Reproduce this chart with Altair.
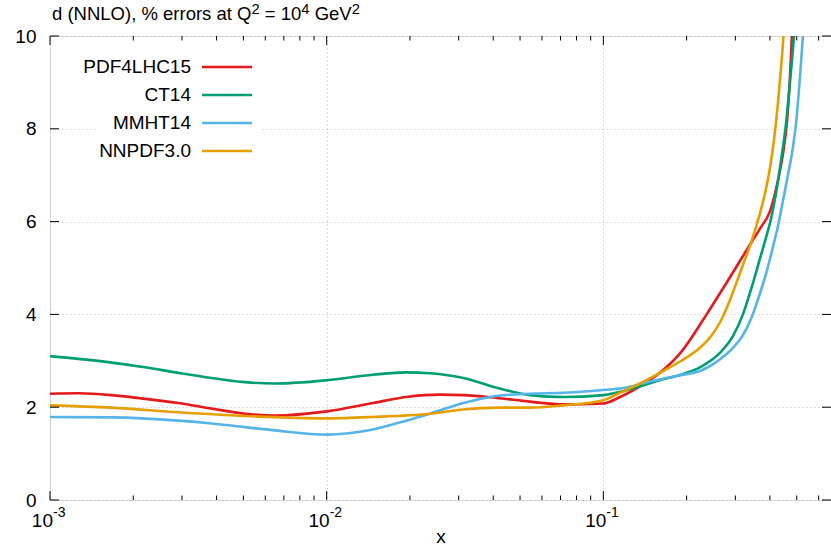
import altair as alt
import pandas as pd

# Percentage PDF uncertainty of the d quark at Q^2 = 10^4 GeV^2 (NNLO)
series_names = ["PDF4LHC15", "CT14", "MMHT14", "NNPDF3.0"]
series_colors = ["#e41a1c", "#009e73", "#56b4e9", "#e69f00"]

pdf4lhc15_x = [0.001, 0.00127, 0.00167, 0.0022, 0.00291, 0.00384, 0.00507, 0.0065, 0.01, 0.0147,
               0.0194, 0.0257, 0.0312, 0.0411, 0.0543, 0.0717, 0.1, 0.115, 0.1356, 0.16, 0.19,
               0.2362, 0.2637, 0.2868, 0.3116, 0.3387, 0.3683, 0.40, 0.417, 0.4349, 0.4495,
               0.4609, 0.4725, 0.4803, 0.4862]
pdf4lhc15_y = [2.29, 2.30, 2.26, 2.18, 2.09, 1.97, 1.86, 1.82, 1.91, 2.09,
               2.22, 2.27, 2.26, 2.20, 2.12, 2.06, 2.08, 2.22, 2.45, 2.74, 3.17,
               4.0, 4.45, 4.8, 5.15, 5.5, 5.85, 6.22, 6.6, 7.1, 7.6,
               8.15, 9.1, 10.0, 10.6]

ct14_x = [0.001, 0.00167, 0.0022, 0.00291, 0.00384, 0.00507, 0.0065, 0.01, 0.0147, 0.0194,
          0.0236, 0.0312, 0.0411, 0.0543, 0.0717, 0.1, 0.115, 0.1356, 0.16, 0.19, 0.2234,
          0.2637, 0.2940, 0.3195, 0.3443, 0.3681, 0.3869, 0.4033, 0.4205, 0.4385, 0.4571,
          0.4725, 0.4887, 0.4967]
ct14_y = [3.10, 2.96, 2.86, 2.74, 2.63, 2.54, 2.51, 2.58, 2.70, 2.75,
          2.73, 2.63, 2.42, 2.26, 2.22, 2.26, 2.33, 2.45, 2.58, 2.70, 2.86,
          3.17, 3.53, 4.0, 4.6, 5.2, 5.65, 6.05, 6.6, 7.3, 8.1,
          9.0, 10.0, 10.6]

mmht14_x = [0.001, 0.00167, 0.00291, 0.00384, 0.00507, 0.0065, 0.01, 0.0147, 0.0194, 0.0236,
            0.0312, 0.0411, 0.0543, 0.0717, 0.1, 0.1248, 0.1356, 0.16, 0.19, 0.2234, 0.2637,
            0.2940, 0.3195, 0.3443, 0.3681, 0.3904, 0.4101, 0.4276, 0.4458, 0.4646, 0.4844,
            0.4967, 0.5134, 0.5264, 0.5351]
mmht14_y = [1.79, 1.78, 1.71, 1.65, 1.57, 1.50, 1.41, 1.52, 1.71, 1.86,
            2.09, 2.24, 2.29, 2.31, 2.37, 2.44, 2.50, 2.60, 2.69, 2.78, 3.03,
            3.28, 3.55, 3.95, 4.45, 4.95, 5.45, 5.9, 6.45, 7.0, 7.6,
            8.1, 9.1, 10.0, 10.6]

nnpdf30_x = [0.001, 0.00167, 0.00291, 0.00507, 0.01, 0.0147, 0.0236, 0.0312, 0.0411, 0.0543,
             0.0717, 0.1, 0.1148, 0.1356, 0.16, 0.19, 0.2234, 0.2427, 0.2637, 0.2820, 0.3014,
             0.3221, 0.3443, 0.3651, 0.3837, 0.4000, 0.4136, 0.4276, 0.4385, 0.4477, 0.4532]
nnpdf30_y = [2.04, 1.99, 1.89, 1.81, 1.76, 1.79, 1.86, 1.95, 1.99, 1.99,
             2.04, 2.15, 2.31, 2.51, 2.74, 2.99, 3.28, 3.5, 3.82, 4.2, 4.65,
             5.12, 5.6, 6.1, 6.6, 7.15, 7.75, 8.55, 9.3, 10.0, 10.6]

x_major = [0.001, 0.01, 0.1]
x_exponents = ["-3", "-2", "-1"]
x_minor = [m * d for d in (0.001, 0.01) for m in range(2, 10)] + [0.2, 0.3, 0.4, 0.5, 0.6]
y_major = [0, 2, 4, 6, 8, 10]
# Title pieces: (text, is_superscript)
title_parts = [("d (NNLO), % errors at Q", False), ("2", True), (" = 10", False),
               ("4", True), (" GeV", False), ("2", True)]

FONT = "Liberation Sans"
FS = 19
TITLE_FS = 18.5
W, H = 781, 464

# Advance widths (1/1000 em) of Liberation Sans, used to lay out the title pieces
ADV = {" ": 278, "(": 333, ")": 333, ",": 278, "%": 889, "=": 584, "d": 556, "e": 556,
       "r": 333, "o": 556, "s": 500, "a": 556, "t": 278, "N": 722, "L": 556, "O": 778,
       "Q": 778, "G": 778, "V": 667, "0": 556, "1": 556, "2": 556, "4": 556}


def text_width(s, size):
    return sum(ADV.get(ch, 556) for ch in s) * size / 1000.0


title_rows = []
cursor = 2.0
for txt, sup in title_parts:
    size = TITLE_FS * 0.8 if sup else TITLE_FS
    lead = len(txt) - len(txt.lstrip(" "))
    title_rows.append({"t": txt.strip(), "px": cursor + text_width(" " * lead, size),
                       "py": -16 - (6.5 if sup else 0), "fs": size})
    cursor += text_width(txt, size)
title_df = pd.DataFrame(title_rows)

xscale = alt.Scale(type="log", domain=[0.001, 0.665], nice=False)
yscale = alt.Scale(domain=[0, 10], nice=False, zero=False)

x_axis = alt.Axis(values=x_major, labels=False, ticks=False, domain=False,
                  grid=True, gridDash=[1, 3], gridColor="#b8b8b8",
                  titleFont=FONT, titleFontSize=FS, titleFontWeight="normal",
                  titleColor="black", titlePadding=27)
y_axis = alt.Axis(values=y_major, ticks=False, tickSize=0, domain=False,
                  grid=True, gridDash=[1, 3], gridColor="#b8b8b8",
                  labelFont=FONT, labelFontSize=FS, labelColor="black", labelPadding=14)


def X(field):
    return alt.X(field, scale=xscale, axis=x_axis, title="x")


def Y(field):
    return alt.Y(field, scale=yscale, axis=y_axis, title=None)


curves = [(pdf4lhc15_x, pdf4lhc15_y), (ct14_x, ct14_y), (mmht14_x, mmht14_y), (nnpdf30_x, nnpdf30_y)]

layers = []
for name, color, (xs, ys) in zip(series_names, series_colors, curves):
    df = pd.DataFrame({"x": xs, "y": ys, "i": range(len(xs))})
    layers.append(
        alt.Chart(df).mark_line(color=color, strokeWidth=2.6, clip=True, interpolate="monotone")
        .encode(x=X("x:Q"), y=Y("y:Q"), order="i:Q")
    )

# Tick marks on all four sides, pointing into the frame
xmaj = pd.DataFrame({"v": x_major})
xmin = pd.DataFrame({"v": x_minor})
ymaj = pd.DataFrame({"v": y_major})
tick_style = dict(color="black", strokeWidth=1)
for src, length in ((xmaj, 9), (xmin, 4.5)):
    layers.append(alt.Chart(src).mark_rule(**tick_style).encode(
        x=X("v:Q"), y=alt.value(H), y2=alt.value(H - length)))
    layers.append(alt.Chart(src).mark_rule(**tick_style).encode(
        x=X("v:Q"), y=alt.value(0), y2=alt.value(length)))
layers.append(alt.Chart(ymaj).mark_rule(**tick_style).encode(
    y=Y("v:Q"), x=alt.value(0), x2=alt.value(9)))
layers.append(alt.Chart(ymaj).mark_rule(**tick_style).encode(
    y=Y("v:Q"), x=alt.value(W), x2=alt.value(W - 9)))

# Decade labels 10^n on the x axis
xlab = pd.DataFrame({"v": x_major, "e": x_exponents})
layers.append(alt.Chart(xlab).mark_text(
    text="10", font=FONT, fontSize=FS, align="right", baseline="middle", dx=3, color="black"
).encode(x=X("v:Q"), y=alt.value(H + 21)))
layers.append(alt.Chart(xlab).mark_text(
    font=FONT, fontSize=14, align="left", baseline="middle", dx=3, color="black"
).encode(x=X("v:Q"), y=alt.value(H + 13), text="e:N"))

# Plot title with raised exponents, top left above the frame
layers.append(alt.Chart(title_df).mark_text(
    font=FONT, align="left", baseline="alphabetic", color="black"
).encode(x=alt.X("px:Q", scale=None, axis=None), y=alt.Y("py:Q", scale=None, axis=None),
         size=alt.Size("fs:Q", scale=None, legend=None), text="t:N"))

# Key: labels on the left, line samples on the right, on a white patch over the grid
one = pd.DataFrame({"k": [0]})
layers.append(alt.Chart(one).mark_rect(color="white").encode(
    x=alt.value(47), x2=alt.value(212), y=alt.value(19), y2=alt.value(128)))
for i, (name, color) in enumerate(zip(series_names, series_colors)):
    yrow = 31 + 28 * i
    layers.append(alt.Chart(one).mark_text(
        text=name, font=FONT, fontSize=FS, align="right", baseline="middle", color="black"
    ).encode(x=alt.value(141), y=alt.value(yrow)))
    layers.append(alt.Chart(one).mark_rule(color=color, strokeWidth=2.6).encode(
        x=alt.value(152), x2=alt.value(202), y=alt.value(yrow)))

chart = alt.layer(*layers).properties(
    width=W, height=H,
    padding={"left": 50, "top": 36, "right": 0, "bottom": 49},
    autosize=alt.AutoSizeParams(type="none"),
).configure_view(stroke="#808080", strokeWidth=1.5).configure(background="white")

chart.save("out.html", embed_options={"renderer": "svg", "actions": False})
